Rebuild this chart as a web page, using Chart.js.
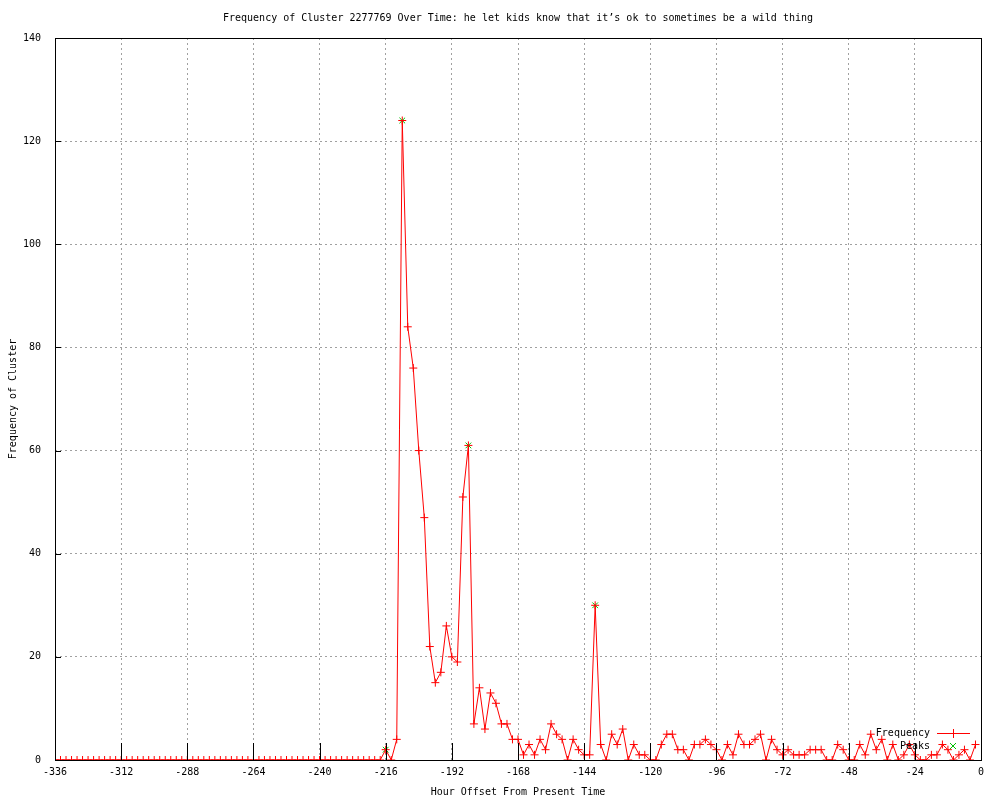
<!DOCTYPE html>
<html>
<head>
<meta charset="utf-8">
<script src="https://cdn.jsdelivr.net/npm/chart.js@4/dist/chart.umd.min.js"></script>
<style>
  html, body { margin: 0; padding: 0; background: #fff; }
</style>
</head>
<body>
<canvas id="chart" width="1000" height="800"></canvas>
<script>
const titleText = 'Frequency of Cluster 2277769 Over Time: he let kids know that it\u2019s ok to sometimes be a wild thing';

// one sample every 2 hours, from -336 up to -2
const firstHour = -336;
const hourStep = 2;

// -336 .. -218 : nothing
const quietCounts = [
  0, 0, 0, 0, 0, 0, 0, 0, 0, 0, 0, 0,
  0, 0, 0, 0, 0, 0, 0, 0, 0, 0, 0, 0,
  0, 0, 0, 0, 0, 0, 0, 0, 0, 0, 0, 0,
  0, 0, 0, 0, 0, 0, 0, 0, 0, 0, 0, 0,
  0, 0, 0, 0, 0, 0, 0, 0, 0, 0, 0, 0
];

// -216 .. -2
const activeCounts = [
  2, 0, 4, 124, 84, 76, 60, 47, 22, 15, 17, 26,
  20, 19, 51, 61, 7, 14, 6, 13, 11, 7, 7, 4,
  4, 1, 3, 1, 4, 2, 7, 5, 4, 0, 4, 2,
  1, 1, 30, 3, 0, 5, 3, 6, 0, 3, 1, 1,
  0, 0, 3, 5, 5, 2, 2, 0, 3, 3, 4, 3,
  2, 0, 3, 1, 5, 3, 3, 4, 5, 0, 4, 2,
  1, 2, 1, 1, 1, 2, 2, 2, 0, 0, 3, 2,
  0, 0, 3, 1, 5, 2, 4, 0, 3, 0, 1, 3,
  1, 0, 0, 1, 1, 3, 2, 0, 1, 2, 0, 3
];

const peakHours = [-216, -210, -186, -140];
const peakCounts = [2, 124, 61, 30];

const xTickStep = 24;
const yTickStep = 20;

const counts = quietCounts.concat(activeCounts);
const hours = counts.map((c, i) => firstHour + i * hourStep);

const monoFont = { family: "'DejaVu Sans Mono', 'Liberation Mono', monospace", size: 10 };
const fontStr = "10px 'DejaVu Sans Mono', 'Liberation Mono', monospace";

const frame = {
  id: 'frame',
  afterDatasetsDraw(chart) {
    const { ctx, chartArea: a, scales } = chart;
    ctx.save();
    ctx.setLineDash([]);
    ctx.strokeStyle = '#000';
    ctx.lineWidth = 1;
    ctx.beginPath();
    scales.x.ticks.forEach(t => {
      const px = Math.round(scales.x.getPixelForValue(t.value)) + 0.5;
      ctx.moveTo(px, a.bottom); ctx.lineTo(px, a.bottom - 17);
    });
    scales.y.ticks.forEach(t => {
      const py = Math.round(scales.y.getPixelForValue(t.value)) + 0.5;
      ctx.moveTo(a.left, py); ctx.lineTo(a.left + 6, py);
    });
    ctx.stroke();
    ctx.strokeRect(Math.round(a.left) + 0.5, Math.round(a.top) + 0.5,
      Math.round(a.right - a.left), Math.round(a.bottom - a.top));
    ctx.restore();
  },
  afterDraw(chart) {
    const { ctx, chartArea: a } = chart;
    ctx.save();
    ctx.font = fontStr;
    ctx.fillStyle = '#000';
    ctx.textBaseline = 'middle';
    ctx.textAlign = 'center';
    ctx.fillText(titleText, (a.left + a.right) / 2, 18);

    // key, bottom right inside the plot
    const tx = 930, sx0 = 937, sx1 = 970, mx = 953;
    const ds = chart.data.datasets;
    ctx.textAlign = 'right';
    ctx.fillText(ds[0].label, tx, 733);
    ctx.fillText(ds[1].label, tx, 746);
    ctx.strokeStyle = '#ff0000';
    ctx.lineWidth = 1;
    ctx.beginPath();
    ctx.moveTo(sx0, 733.5); ctx.lineTo(sx1, 733.5);
    ctx.moveTo(mx + 0.5, 729); ctx.lineTo(mx + 0.5, 738);
    ctx.stroke();
    ctx.strokeStyle = '#00c000';
    ctx.beginPath();
    ctx.moveTo(mx - 3, 743); ctx.lineTo(mx + 3, 749);
    ctx.moveTo(mx + 3, 743); ctx.lineTo(mx - 3, 749);
    ctx.stroke();
    ctx.restore();
  }
};

new Chart(document.getElementById('chart').getContext('2d'), {
  type: 'line',
  data: {
    datasets: [{
      label: 'Frequency',
      data: hours.map((h, i) => ({ x: h, y: counts[i] })),
      borderColor: '#ff0000',
      borderWidth: 1,
      pointStyle: 'cross',
      pointRadius: 4,
      pointBorderColor: '#ff0000',
      pointBorderWidth: 1,
      tension: 0,
      fill: false
    }, {
      label: 'Peaks',
      data: peakHours.map((h, i) => ({ x: h, y: peakCounts[i] })),
      showLine: false,
      borderColor: '#00c000',
      pointStyle: 'crossRot',
      pointRadius: 4,
      pointBorderColor: '#00c000',
      pointBorderWidth: 1
    }]
  },
  options: {
    responsive: false,
    animation: false,
    events: [],
    layout: { padding: { top: 38, right: 19, left: 0, bottom: 0 } },
    plugins: {
      legend: { display: false },
      tooltip: { enabled: false }
    },
    scales: {
      x: {
        type: 'linear',
        min: -336,
        max: 0,
        afterFit(scale) { scale.height = 40; },
        ticks: { stepSize: xTickStep, color: '#000', font: monoFont, padding: 6, maxRotation: 0, autoSkip: false },
        grid: { color: '#a0a0a0', lineWidth: 1, drawTicks: false },
        border: { display: false, dash: [2, 3] },
        title: { display: true, text: 'Hour Offset From Present Time', color: '#000', font: monoFont, padding: { top: 2, bottom: 2 } }
      },
      y: {
        min: 0,
        max: 140,
        afterFit(scale) { scale.width = 55; },
        ticks: { stepSize: yTickStep, color: '#000', font: monoFont, padding: 14 },
        grid: { color: '#a0a0a0', lineWidth: 1, drawTicks: false },
        border: { display: false, dash: [2, 3] },
        title: { display: true, text: 'Frequency of Cluster', color: '#000', font: monoFont, padding: { top: 7, bottom: 7 } }
      }
    }
  },
  plugins: [frame]
});
</script>
</body>
</html>
